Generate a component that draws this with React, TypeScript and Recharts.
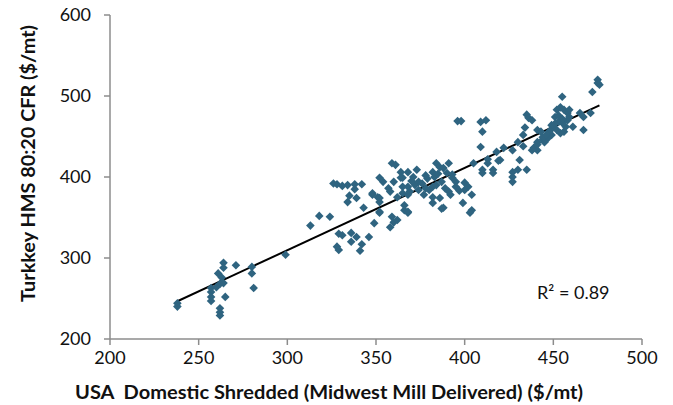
import { ScatterChart, Scatter, XAxis, YAxis, ReferenceLine, Label } from "recharts"

// USA domestic shredded (Midwest mill delivered), $/mt
const shreddedPrices = [
  238, 238, 257, 257, 257, 257, 260, 262, 261, 264, 264, 263, 264, 265, 262, 262, 262, 271, 280, 280, 281, 299,
  313, 318, 324, 329, 331, 328, 329, 336, 336, 339, 342, 341, 346, 328, 331, 334, 338, 342, 338, 335, 334, 339,
  343, 348, 349, 352, 352,
  359, 361, 364, 352, 354, 357, 358, 360, 364, 365, 351, 352, 362, 365, 348, 352, 359, 360, 358, 362, 366, 368,
  368, 368,
  409, 418, 405, 410, 410, 413, 400, 402, 404, 399, 404, 388, 392, 391, 384, 386, 388, 391, 390, 382, 383, 393,
  393, 395, 387, 382, 380, 373, 371, 368, 365, 372, 374, 378, 377, 369, 386, 382, 366, 368, 382,
  396, 398, 409, 412, 410, 435, 436, 438, 434, 433, 441, 443, 439, 441, 444, 422, 427, 431, 435, 430, 427, 427,
  427, 420, 416, 416, 433, 430, 455, 452, 454, 456, 458, 459, 451, 453, 455, 458, 450, 452, 454, 456, 449, 447,
  445, 461, 467, 465, 467, 471, 472, 475, 475, 476, 441, 444, 441, 400, 403, 387, 326, 419, 413, 449, 438,
  453, 457, 451, 455, 459, 448, 446,
  376, 379, 384, 389, 385, 378, 374, 370, 395, 397,
]

// Turkey HMS 80:20 CFR, $/mt
const turkeyPrices = [
  244, 240, 263, 258, 252, 247, 264, 268, 281, 294, 288, 276, 269, 252, 238, 233, 229, 291, 289, 281, 263, 304,
  340, 352, 351, 330, 328, 314, 310, 331, 320, 326, 317, 309, 326, 391, 389, 390, 391, 391, 385, 377, 369, 374,
  362, 378, 343, 356, 374,
  417, 415, 406, 399, 394, 386, 382, 394, 399, 388, 375, 369, 375, 380, 380, 357, 351, 344, 338, 347, 359, 356,
  378, 388,
  437, 431, 417, 409, 405, 417, 393, 388, 378, 368, 359, 362, 378, 382, 417, 412, 411, 417, 405, 406, 400, 403,
  399, 394, 394, 388, 384, 409, 400, 406, 399, 390, 394, 386, 378, 382, 374, 375, 365, 357, 368,
  469, 469, 468, 470, 456, 477, 473, 470, 461, 452, 458, 456, 436, 433, 446, 436, 433, 421, 409, 409, 406, 400,
  394, 421, 409, 405, 438, 443, 499, 483, 486, 483, 479, 483, 474, 468, 467, 470, 462, 458, 454, 456, 452, 448,
  443, 462, 458, 479, 474, 479, 505, 520, 516, 514, 443, 449, 440, 384, 356, 361, 392, 420, 422, 464, 433,
  476, 462, 466, 472, 474, 457, 452,
  392, 398, 390, 386, 404, 402, 384, 395, 388, 383,
]

const xTicks = [200, 250, 300, 350, 400, 450, 500]
const yTicks = [200, 300, 400, 500, 600]
const rSquaredText = "R² = 0.89"

const points = shreddedPrices.map((x, i) => ({ x, y: turkeyPrices[i] }))

// least squares trendline, drawn over the data's x range
const n = points.length
const meanX = points.reduce((s, p) => s + p.x, 0) / n
const meanY = points.reduce((s, p) => s + p.y, 0) / n
const slope =
  points.reduce((s, p) => s + (p.x - meanX) * (p.y - meanY), 0) /
  points.reduce((s, p) => s + (p.x - meanX) ** 2, 0)
const intercept = meanY - slope * meanX
const minX = Math.min(...shreddedPrices)
const maxX = Math.max(...shreddedPrices)

const FONT = "Lato, 'Liberation Sans', sans-serif"
const AXIS_GREY = "#8c8c8c"

const Diamond = (props: any) => {
  const { cx, cy } = props
  const r = 4.3
  return <polygon points={`${cx},${cy - r} ${cx + r},${cy} ${cx},${cy + r} ${cx - r},${cy}`} fill="#2f6480" />
}

export default function App() {
  return (
    <div style={{ position: "absolute", left: 0, top: 0, width: 673, height: 405, background: "#fff" }}>
      <ScatterChart width={673} height={405} margin={{ top: 15, right: 31, bottom: 0, left: 0 }}>
        <XAxis
          type="number"
          dataKey="x"
          domain={[200, 500]}
          ticks={xTicks}
          height={66}
          axisLine={{ stroke: AXIS_GREY, strokeWidth: 1.5 }}
          tickLine={{ stroke: AXIS_GREY, strokeWidth: 1.5 }}
          tickSize={6}
          tickMargin={6}
          tick={{ fill: "#111", fontSize: 18, fontFamily: FONT }}
        >
          <Label
            content={() => (
              <text
                x={75}
                y={399}
                textLength={508}
                lengthAdjust="spacingAndGlyphs"
                fontFamily={FONT}
                fontSize={18}
                fontWeight="bold"
                fill="#111"
                style={{ whiteSpace: "pre" }}
              >
                USA  Domestic Shredded (Midwest Mill Delivered) ($/mt)
              </text>
            )}
          />
        </XAxis>
        <YAxis
          type="number"
          dataKey="y"
          domain={[200, 600]}
          ticks={yTicks}
          width={110}
          axisLine={{ stroke: AXIS_GREY, strokeWidth: 1.5 }}
          tickLine={{ stroke: AXIS_GREY, strokeWidth: 1.5 }}
          tickSize={6}
          tickMargin={13}
          tick={{ fill: "#111", fontSize: 18, fontFamily: FONT }}
        >
          <Label
            content={() => (
              <text
                transform="rotate(-90)"
                x={-302}
                y={35}
                textLength={277}
                lengthAdjust="spacingAndGlyphs"
                fontFamily={FONT}
                fontSize={18}
                fontWeight="bold"
                fill="#111"
              >
                Turkkey HMS 80:20 CFR ($/mt)
              </text>
            )}
          />
        </YAxis>
        <Scatter data={points} shape={<Diamond />} isAnimationActive={false} />
        <ReferenceLine
          segment={[
            { x: minX, y: slope * minX + intercept },
            { x: maxX, y: slope * maxX + intercept },
          ]}
          stroke="#000"
          strokeWidth={2}
        />
      </ScatterChart>
      <div
        style={{
          position: "absolute",
          left: 537,
          top: 281,
          fontFamily: FONT,
          fontSize: 18,
          color: "#111",
          whiteSpace: "nowrap",
        }}
      >
        {rSquaredText}
      </div>
    </div>
  )
}
